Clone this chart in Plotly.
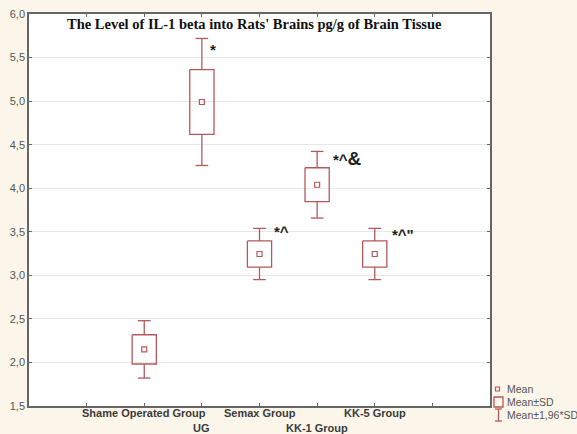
import plotly.graph_objects as go

# ---- data ----
groups = ["Shame Operated Group", "UG", "Semax Group", "KK-1 Group", "KK-5 Group"]
group_pos = [2, 3, 4, 5, 6]
label_row = [0, 1, 0, 1, 0]
means = [2.15, 4.99, 3.245, 4.04, 3.245]
sds = [0.168, 0.372, 0.15, 0.195, 0.15]
marks = ["", "*", "*^", "*^&", "*^\""]
y_ticks = [1.5, 2.0, 2.5, 3.0, 3.5, 4.0, 4.5, 5.0, 5.5, 6.0]
y_tick_text = ["1,5", "2,0", "2,5", "3,0", "3,5", "4,0", "4,5", "5,0", "5,5", "6,0"]
legend_labels = ["Mean", "Mean±SD", "Mean±1,96*SD"]

# ---- layout / style ----
COL = "#b5585b"
W, H = 577, 434
L, R, T, B = 29, 490, 14, 406
box_half = 0.21
cap_half = 0.11
mark_dx = [0, 0.1, 0.22, 0.24, 0.26]     # horizontal offset of marks (axis units)
mark_dy = [0, -11, -3, -7, -6]           # vertical shift of marks (px)

def px(x):
    return (x - L) / (R - L)

def py(y):
    return (B - y) / (B - T)

fig = go.Figure()

# boxes (mean ± SD)
bx, by = [], []
for x, m, s in zip(group_pos, means, sds):
    bx += [x - box_half, x + box_half, x + box_half, x - box_half, x - box_half, None]
    by += [m + s, m + s, m - s, m - s, m + s, None]
fig.add_trace(go.Scatter(x=bx, y=by, mode="lines", line=dict(color=COL, width=1.3),
                         hoverinfo="skip", showlegend=False))

# whiskers (mean ± 1.96 SD)
wx, wy = [], []
for x, m, s in zip(group_pos, means, sds):
    hi, lo = m + 1.96 * s, m - 1.96 * s
    wx += [x, x, None, x, x, None,
           x - cap_half, x + cap_half, None, x - cap_half, x + cap_half, None]
    wy += [m + s, hi, None, m - s, lo, None, hi, hi, None, lo, lo, None]
fig.add_trace(go.Scatter(x=wx, y=wy, mode="lines", line=dict(color=COL, width=1.3),
                         hoverinfo="skip", showlegend=False))

# means
fig.add_trace(go.Scatter(x=group_pos, y=means, mode="markers",
                         marker=dict(symbol="square-open", size=5, color=COL,
                                     line=dict(width=1.2, color=COL)),
                         showlegend=False))

annotations = []
# significance marks
for x, m, s, t, dx, dy in zip(group_pos, means, sds, marks, mark_dx, mark_dy):
    if not t:
        continue
    annotations.append(dict(x=x + dx, y=m + 1.96 * s, xref="x", yref="y", yshift=dy,
                            text="<b>" + t.replace("&", "<span style='font-size:19px'>&amp;</span>") + "</b>",
                            showarrow=False, xanchor="left", yanchor="middle",
                            font=dict(family="Liberation Sans", size=15, color="#222")))

# category labels
for x, g, r in zip(group_pos, groups, label_row):
    annotations.append(dict(x=x, y=py(413 + 15 * r), xref="x", yref="paper",
                            text="<b>" + g + "</b>", showarrow=False,
                            xanchor="center", yanchor="middle",
                            font=dict(family="Liberation Sans", size=11, color="#3a3a3a")))

# title
annotations.append(dict(x=px(254), y=py(24), xref="paper", yref="paper",
                        text="<b>The Level of IL-1 beta into Rats' Brains pg/g of Brain Tissue</b>",
                        showarrow=False, xanchor="center", yanchor="middle",
                        font=dict(family="Liberation Serif", size=14.5, color="#111")))

# legend text
for i, lab in enumerate(legend_labels):
    annotations.append(dict(x=px(505), y=py(389 + 13 * i), xref="paper", yref="paper",
                            text=lab, showarrow=False, xanchor="left", yanchor="middle",
                            font=dict(family="Liberation Sans", size=10.5, color="#555")))

shapes = [
    # legend mean marker
    dict(type="rect", xref="paper", yref="paper", x0=px(495.5), x1=px(499.5),
         y0=py(391), y1=py(387), line=dict(color=COL, width=1.2)),
    # legend box
    dict(type="rect", xref="paper", yref="paper", x0=px(494), x1=px(503),
         y0=py(407), y1=py(397), line=dict(color=COL, width=1.3)),
    # legend whisker
    dict(type="line", xref="paper", yref="paper", x0=px(498.5), x1=px(498.5),
         y0=py(421), y1=py(409), line=dict(color=COL, width=1.3)),
    dict(type="line", xref="paper", yref="paper", x0=px(495), x1=px(502),
         y0=py(409), y1=py(409), line=dict(color=COL, width=1.3)),
    dict(type="line", xref="paper", yref="paper", x0=px(495), x1=px(502),
         y0=py(421), y1=py(421), line=dict(color=COL, width=1.3)),
]

fig.update_layout(
    width=W, height=H,
    margin=dict(l=L, r=W - R, t=T, b=H - B),
    paper_bgcolor="#fcf6ea", plot_bgcolor="white",
    showlegend=False,
    annotations=annotations, shapes=shapes,
    xaxis=dict(range=[0, 8], tickvals=[1, 2, 3, 4, 5, 6, 7], showticklabels=False,
               ticks="inside", ticklen=3, tickcolor="#666", showgrid=False,
               showline=True, linecolor="#666", linewidth=1.5, mirror="ticks",
               zeroline=False, fixedrange=True),
    yaxis=dict(range=[1.5, 6.0], tickvals=y_ticks, ticktext=y_tick_text,
               ticks="inside", ticklen=3, tickcolor="#666",
               showgrid=True, gridcolor="#e8e8e8", gridwidth=1,
               showline=True, linecolor="#666", linewidth=1.5, mirror="ticks",
               zeroline=False, tickfont=dict(family="Liberation Sans", size=11, color="#555"),
               automargin=False, fixedrange=True),
)

fig.write_html("out.html", config={"displayModeBar": False},
               post_script="document.body.style.margin='0';document.body.style.overflow='hidden';")
